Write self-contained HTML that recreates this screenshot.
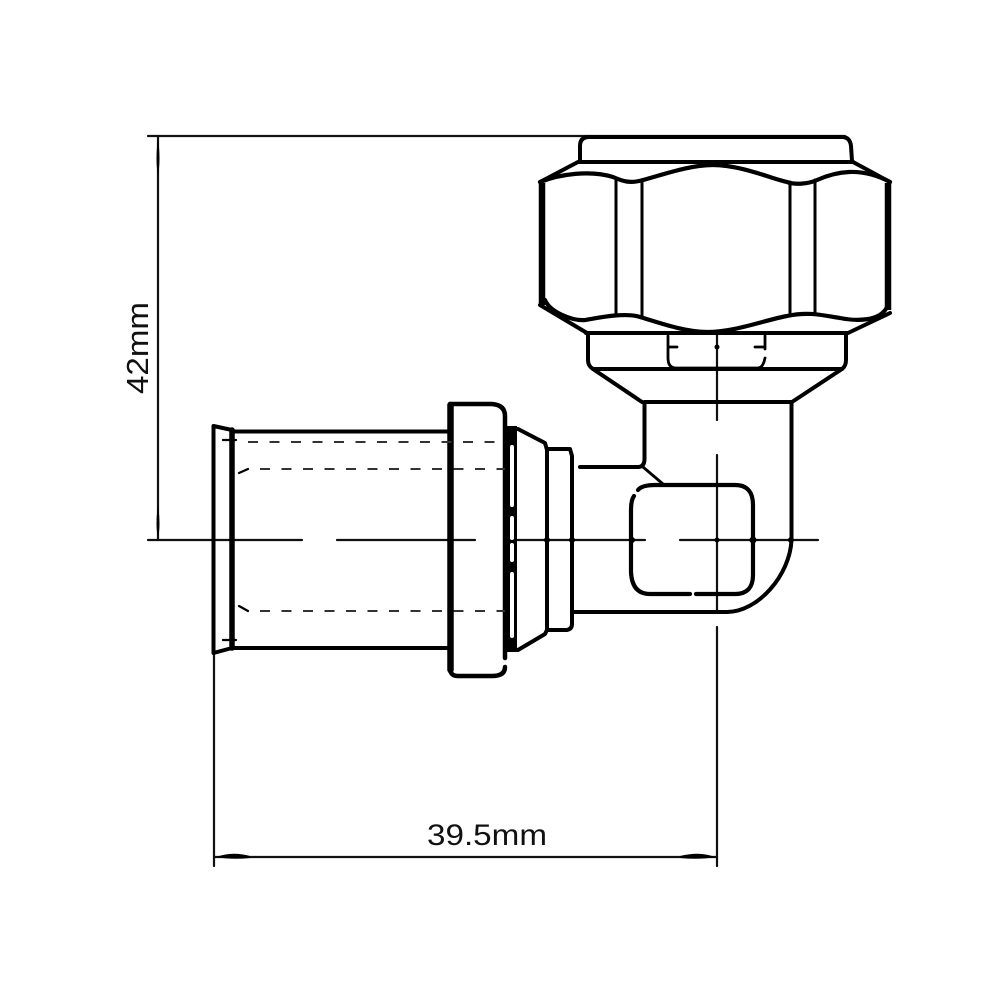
<!DOCTYPE html>
<html><head><meta charset="utf-8"><style>html,body{margin:0;padding:0;background:#fff}svg{display:block}text{font-family:"Liberation Sans",sans-serif;fill:#111}</style></head>
<body>
<svg width="1000" height="1000" viewBox="0 0 1000 1000" fill="none" stroke="#000" stroke-linejoin="round" stroke-linecap="round">
<!-- dimension and centre lines -->
<g stroke-width="2.2" stroke="#111">
<path d="M148 136H845M148 540H302M337 540H475M517 540H645M680 540H818"/>
<path d="M158 136V540M214 653V866M214 857H717M717 335V420M717 455V613M717 627V866"/>
</g>
<g fill="#000" stroke="none">
<path d="M158 138Q161 160 158 175Q155 160 158 138ZM158 538Q155 525 158 505Q161 525 158 538ZM216 857Q232 851 250 856V858Q232 860 216 857ZM715 857Q700 851 680 856V858Q700 860 715 857Z"/>
</g>
<!-- nut -->
<g stroke-width="4">
<path d="M580 161V146Q580 137 589 137H842Q850 137 851 146L852 161"/>
<path d="M579 162H853"/>
<path d="M578 162L540 182M853 162L890 182"/>
<path d="M540 305L587 333M890 313L848 333M586 333H848"/>
<path d="M588 334V360Q588 366 593 369H842Q846 366 846 360V334"/>
<path d="M593 369L642 402M842 369L792 402"/>
<path d="M645 402H792M644.500 402V460Q644 467 638 467H580M791.500 402V540C790 575 758 612 727 612H573"/>
</g>
<path stroke-width="4.200" d="M540 182C560 174 590 170 613 177C622 181 630 184 643 180C665 174 690 165 713 165C740 165 770 178 787 182C795 185 808 184 817 180C835 172 860 166 890 182"/>
<path stroke-width="4.200" d="M545 300C550 312 572 321 585 320C597 318 625 312 640 317C660 323 685 332 707 332C735 332 765 320 787 316C810 311 825 316 840 318C855 321 880 322 887 307"/>
<path stroke-width="6.500" stroke-linecap="butt" d="M542 183V305M888 183V310"/>
<path stroke-width="3" d="M616 178V315M642 180V317M790 182V315M815 180V314"/>
<!-- collar hidden detail -->
<g stroke-width="2.800">
<path d="M668 336V358Q668 368 676 368H758Q763 368 765 358M765 336V349M668 347H677M755 347H765"/>
</g>
<!-- inner hex -->
<path stroke-width="4.200" d="M638 490Q642 485 655 485H735Q753 485 753 505V575Q753 594 735 594H696M690 594H650Q632 594 631 572V510Q631 500 634 496"/>
<path stroke-width="2.800" d="M643 467L663 484"/>
<!-- left body -->
<path stroke-width="4" d="M213.500 426V653L232 648M213.500 426L232 430"/>
<path stroke-width="5.500" d="M232 430V648"/>
<path stroke-width="4" d="M232 431.500H448M232 648H448"/>
<path stroke-width="6.500" d="M450.500 405V670"/>
<path stroke-width="4.500" d="M450 404H492Q505 405 505 416V658M505 667Q505 676 492 676H458Q450 676 450 668"/>
<!-- serration -->
<path stroke-width="3.500" d="M505 428V650"/>
<path stroke-width="10" stroke-linecap="butt" d="M512 426V651" />
<path stroke-width="4" stroke="#fff" d="M512 447V505M512 518V538M512 545V560M512 574V636"/>
<!-- cone + small flange -->
<path stroke-width="4" d="M507 429H518L545 443L547 450V630L545 634L518 650H507"/>
<path stroke-width="4" d="M547 449H570L572 456V624Q572 629 567 630L547 630"/>
<!-- dashes -->
<g stroke-width="2" stroke="#333" stroke-dasharray="10 11.500" stroke-linecap="butt">
<path d="M248 442H500"/>
<path d="M260 469H505"/>
<path d="M260 611H505"/>
</g>
<path stroke-width="2.200" d="M239 473L248 469M239 606L248 611M223 440H236M223 640H236"/>
<g fill="#000" stroke="none">
<circle cx="450" cy="540" r="3"/><circle cx="632" cy="540" r="3"/><circle cx="717" cy="540" r="2.500"/><circle cx="753" cy="540" r="3.500"/><circle cx="791" cy="540" r="3"/><circle cx="547" cy="540" r="3"/><circle cx="572" cy="540" r="3"/><circle cx="717" cy="347" r="2.500"/>
</g>
<text x="487" y="845" font-size="30" text-anchor="middle" stroke="none" textLength="120" lengthAdjust="spacingAndGlyphs">39.5mm</text>
<text transform="translate(148 348) rotate(-90)" font-size="31" text-anchor="middle" stroke="none" textLength="92" lengthAdjust="spacingAndGlyphs">42mm</text>
</svg>
</body></html>
